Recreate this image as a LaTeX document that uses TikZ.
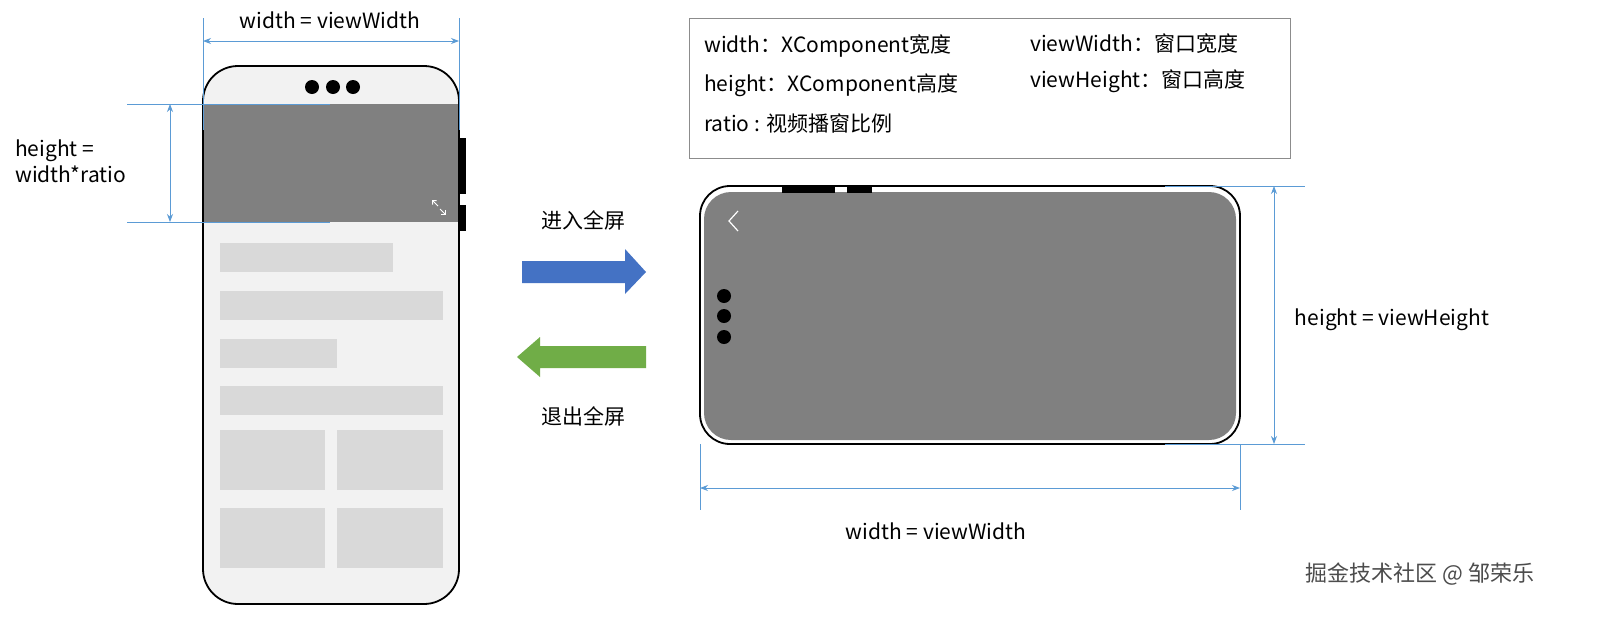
\documentclass[tikz,border=0pt]{standalone}
\usepackage{fontspec}
\setmainfont{Noto Sans CJK SC}
\usetikzlibrary{arrows.meta}
\definecolor{dim}{HTML}{5B9BD5}
\definecolor{scr}{HTML}{808080}
\definecolor{blk}{HTML}{D9D9D9}
\definecolor{bg}{HTML}{F2F2F2}
\definecolor{blu}{HTML}{4472C4}
\definecolor{grn}{HTML}{70AD47}
\begin{document}
\begin{tikzpicture}[x=1pt,y=-1pt,
 dimline/.style={dim,line width=0.8pt},
 dimarr/.style={dim,line width=0.8pt,{Stealth[length=8pt,width=6pt]}-{Stealth[length=8pt,width=6pt]}},
 lbl/.style={font=\fontsize{21}{26}\selectfont,inner sep=0pt},
 ph/.style={draw=black,line width=1.8pt}]
\useasboundingbox[fill=white] (0,0) rectangle (1607,619);
% left phone
\draw[ph,fill=bg,rounded corners=35pt] (203,66) rectangle (459,604);
\fill[scr] (204,104) rectangle (458,222);
\foreach \x in {312,333,353} \fill (\x,87) circle (7);
\fill (459,138) rectangle (466,194);
\fill (459,205) rectangle (466,231);
\foreach \a/\b/\c/\d in {220/243/393/272,220/291/443/320,220/339/337/368,220/386/443/415,220/430/325/490,337/430/443/490,220/508/325/568,337/508/443/568}
  \fill[blk] (\a,\b) rectangle (\c,\d);
\draw[white,line width=1pt,-{Straight Barb[length=3pt]}] (438,206) -- (432,200);
\draw[white,line width=1pt,-{Straight Barb[length=3pt]}] (440,209) -- (446,215);
% top dim
\coordinate (tl1) at (203,18); \coordinate (tl2) at (203,130);
\coordinate (tr1) at (459,18); \coordinate (tr2) at (459,130);
\draw[dimline] (tl1) -- (tl2); \draw[dimline] (tr1) -- (tr2);
\coordinate (ta) at (203,41); \coordinate (tb) at (459,41);
\draw[dimarr] (ta) -- (tb);
\node[lbl] (tw) at (330,20) {width = viewWidth};
% left height dim
\coordinate (h1a) at (127,104); \coordinate (h1b) at (330,104);
\coordinate (h2a) at (127,222); \coordinate (h2b) at (330,222);
\draw[dimline] (h1a) -- (h1b); \draw[dimline] (h2a) -- (h2b);
\coordinate (hv1) at (170,104); \coordinate (hv2) at (170,222);
\draw[dimarr] (hv1) -- (hv2);
\node[lbl,align=left,anchor=west] (hl) at (15,161) {height =\\width*ratio};
% arrows
\fill[blu] (522,261) -- (625,261) -- (625,249) -- (646,272) -- (625,294) -- (625,283) -- (522,283) -- cycle;
\node[lbl] (enter) at (583,220) {进入全屏};
\fill[grn] (646,346) -- (540,346) -- (540,337) -- (517,357) -- (540,377) -- (540,368) -- (646,368) -- cycle;
\node[lbl] (exit) at (583,416) {退出全屏};
% legend
\draw[gray!90,line width=1pt] (689,18) rectangle (1290,158);
\node[lbl,anchor=west] (l1) at (704,46) {width：XComponent宽度};
\node[lbl,anchor=west] (l2) at (704,85) {height：XComponent高度};
\node[lbl,anchor=west] (l3) at (704,123) {ratio : 视频播窗比例};
\node[lbl,anchor=west] (l4) at (1030,44) {viewWidth：窗口宽度};
\node[lbl,anchor=west] (l5) at (1030,81) {viewHeight：窗口高度};
% landscape phone
\draw[ph,fill=white,rounded corners=30pt] (700,186) rectangle (1240,444);
\fill[scr,rounded corners=27pt] (704,192) rectangle (1236,440);
\fill (782,185) rectangle (835,193);
\fill (847,185) rectangle (872,193);
\draw[white,line width=1.2pt] (738,211) -- (729,221) -- (738,231);
\foreach \y in {296,316,337} \fill (724,\y) circle (7);
% right dim
\coordinate (r1a) at (1165,186); \coordinate (r1b) at (1305,186);
\coordinate (r2a) at (1165,444); \coordinate (r2b) at (1305,444);
\draw[dimline] (r1a) -- (r1b); \draw[dimline] (r2a) -- (r2b);
\coordinate (rv1) at (1274,186); \coordinate (rv2) at (1274,444);
\draw[dimarr] (rv1) -- (rv2);
\node[lbl] (rh) at (1392,320) {height = viewHeight};
% bottom dim
\coordinate (b1a) at (700,444); \coordinate (b1b) at (700,510);
\coordinate (b2a) at (1240,444); \coordinate (b2b) at (1240,510);
\draw[dimline] (b1a) -- (b1b); \draw[dimline] (b2a) -- (b2b);
\coordinate (bh1) at (700,488); \coordinate (bh2) at (1240,488);
\draw[dimarr] (bh1) -- (bh2);
\node[lbl] (bw) at (936,531) {width = viewWidth};
% watermark
\node[lbl,text=black!70,font=\fontsize{22}{26}\selectfont] (wm) at (1420,574) {掘金技术社区 @ 邹荣乐};
\end{tikzpicture}
\end{document}
